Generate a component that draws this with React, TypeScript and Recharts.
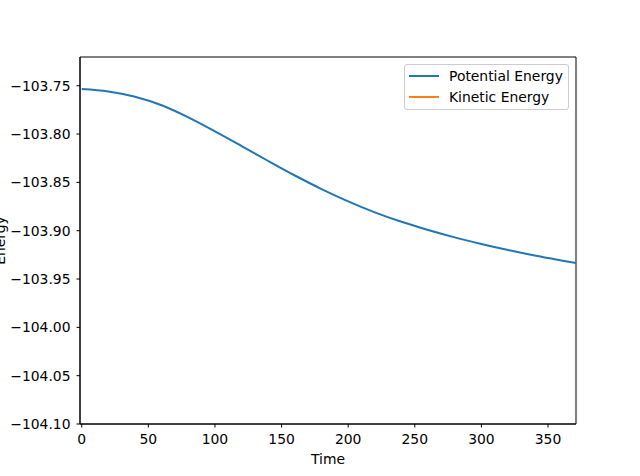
import { LineChart, Line, XAxis, YAxis, Legend, ReferenceArea } from 'recharts';

const times = [0, 20, 40, 60, 80, 100, 120, 140, 160, 180, 200, 220, 240, 260, 280, 300, 320, 340, 360, 371];
const potential = [
  -103.7534, -103.7559, -103.7614, -103.7702, -103.7827, -103.7972, -103.8124, -103.8279, -103.8429, -103.8569,
  -103.8696, -103.881, -103.8908, -103.8993, -103.9069, -103.9137, -103.92, -103.9257, -103.9308, -103.9335,
];
// kinetic energy sits far outside the plotted range, so nothing of it shows
const kinetic: (number | null)[] = times.map(() => null);

const seriesNames = ['Potential Energy', 'Kinetic Energy'];
const xTicks = [0, 50, 100, 150, 200, 250, 300, 350];
const yTicks = [-103.75, -103.8, -103.85, -103.9, -103.95, -104.0, -104.05, -104.1];

const data = times.map((t, i) => ({ time: t, potential: potential[i], kinetic: kinetic[i] }));

const FONT = '"DejaVu Sans", sans-serif';
const fmtY = (v: number) => v.toFixed(2).replace('-', '\u2212');

function LegendBox({ payload }: any) {
  const items = [...(payload || [])].sort(
    (a: any, b: any) => seriesNames.indexOf(a.value) - seriesNames.indexOf(b.value)
  );
  return (
    <div
      style={{
        boxSizing: 'border-box',
        width: 165,
        height: 46,
        border: '1px solid #cccccc',
        borderRadius: 3,
        background: 'rgba(255,255,255,0.8)',
        padding: '1px 0 2px 4px',
        fontFamily: FONT,
        fontSize: 13.9,
        color: '#000',
      }}
    >
      {items.map((p: any) => (
        <div key={p.value} style={{ height: 20.5, display: 'flex', alignItems: 'center' }}>
          <div style={{ width: 30, height: 2, background: p.color, marginRight: 10 }} />
          <span>{p.value}</span>
        </div>
      ))}
    </div>
  );
}

export default function App() {
  return (
    <div style={{ position: 'absolute', left: 0, top: 0, background: '#fff' }}>
      <LineChart width={640} height={476} data={data} margin={{ top: 57, right: 64, bottom: 0, left: 0 }}>
        <XAxis
          dataKey='time'
          type='number'
          domain={[-1.3, 371]}
          ticks={xTicks}
          allowDataOverflow
          height={52}
          stroke='#000'
          strokeWidth={1}
          tickSize={3.5}
          tickMargin={6.5}
          tickLine={{ stroke: '#000' }}
          tick={{ fill: '#000', fontSize: 13.9, fontFamily: FONT }}
          label={{ value: 'Time', position: 'insideBottom', offset: 12, fill: '#000', fontSize: 13.9, fontFamily: FONT }}
        />
        <YAxis
          type='number'
          domain={[-104.1, -103.7203]}
          ticks={yTicks}
          allowDataOverflow
          width={80}
          stroke='#000'
          strokeWidth={1}
          tickSize={3.5}
          tickMargin={6}
          tickLine={{ stroke: '#000' }}
          tickFormatter={fmtY}
          tick={{ fill: '#000', fontSize: 13.9, fontFamily: FONT }}
          label={{
            content: () => (
              <text
                x={5}
                y={240.5}
                transform='rotate(-90, 5, 240.5)'
                textAnchor='middle'
                fill='#000'
                fontSize={13.9}
                fontFamily={FONT}
              >
                Energy
              </text>
            ),
          }}
        />
        <ReferenceArea
          x1={-1.3}
          x2={371}
          y1={-104.1}
          y2={-103.7203}
          fill='none'
          stroke='#000'
          strokeWidth={1}
          ifOverflow='extendDomain'
        />
        <Legend
          layout='horizontal'
          verticalAlign='middle'
          align='center'
          content={<LegendBox />}
          wrapperStyle={{ left: 404, top: 64, width: 165, height: 46 }}
        />
        <Line
          name='Potential Energy'
          dataKey='potential'
          type='monotone'
          stroke='#1f77b4'
          strokeWidth={2}
          dot={false}
          isAnimationActive={false}
        />
        <Line
          name='Kinetic Energy'
          dataKey='kinetic'
          type='monotone'
          stroke='#ff7f0e'
          strokeWidth={2}
          dot={false}
          isAnimationActive={false}
        />
      </LineChart>
    </div>
  );
}
